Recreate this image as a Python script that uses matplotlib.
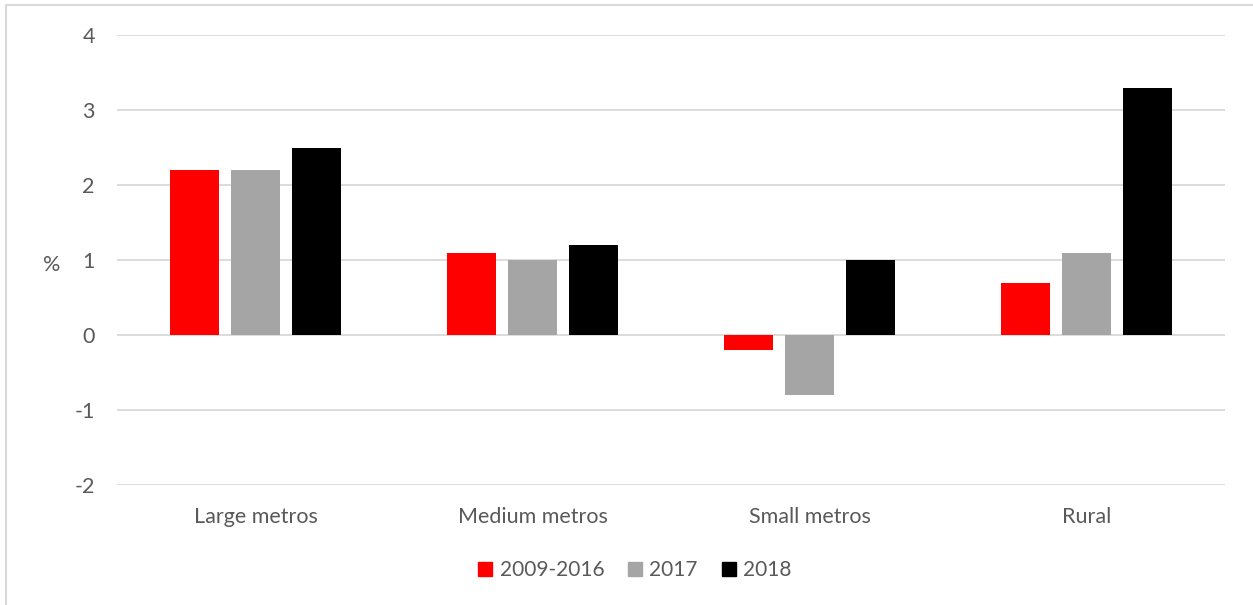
import numpy as np
import matplotlib.pyplot as plt
from matplotlib.patches import Rectangle, Patch

plt.rcParams['font.family'] = ['Lato', 'DejaVu Sans']

categories = ["Large metros", "Medium metros", "Small metros", "Rural"]
series_names = ["2009-2016", "2017", "2018"]
v_2009_2016 = [2.2, 1.1, -0.2, 0.7]
v_2017 = [2.2, 1.0, -0.8, 1.1]
v_2018 = [2.5, 1.2, 1.0, 3.3]
yticks = [-2, -1, 0, 1, 2, 3, 4]

colors = ["#ff0000", "#a5a5a5", "#000000"]
text_col = "#595959"
fs = 15.5

fig = plt.figure(figsize=(12.53, 6.05), dpi=100)
ax = fig.add_axes([117/1253, 1-485/605, (1225-117)/1253, 450/605])

# thin outer frame around the chart area
fig.patches.append(Rectangle((6/1253, -0.1), 1.2, 1-5/605+0.1, transform=fig.transFigure,
                             fill=False, edgecolor="#d9d9d9", linewidth=1.5))

x = np.arange(len(categories))
offs = [-0.22, 0.0, 0.22]
w = 0.175
for vals, off, c, name in zip([v_2009_2016, v_2017, v_2018], offs, colors, series_names):
    ax.bar(x + off, vals, w, color=c, label=name, zorder=3)

ax.set_xlim(-0.5, 3.5)
ax.set_ylim(-2, 4)
ax.set_yticks(yticks)
ax.set_yticklabels([str(t) for t in yticks])
ax.set_xticks(x)
ax.set_xticklabels(categories)
ax.grid(axis='y', color="#d9d9d9", linewidth=1.3, zorder=0)
for s in ax.spines.values():
    s.set_visible(False)
ax.tick_params(axis='both', length=0, labelsize=fs, colors=text_col)
ax.tick_params(axis='y', pad=16)
ax.tick_params(axis='x', pad=16)

fig.text(52/1253, 1-265/605, "%", fontsize=fs, color=text_col, ha='center', va='center')

handles = [Patch(color=c) for c in colors]
fig.legend(handles, series_names, loc='center', bbox_to_anchor=(635/1253, 1-570/605),
           ncol=3, frameon=False, fontsize=15, handlelength=0.67, handleheight=0.67,
           handletextpad=0.35, columnspacing=1.15, labelcolor=text_col)

fig.savefig("out.png", dpi=100)
